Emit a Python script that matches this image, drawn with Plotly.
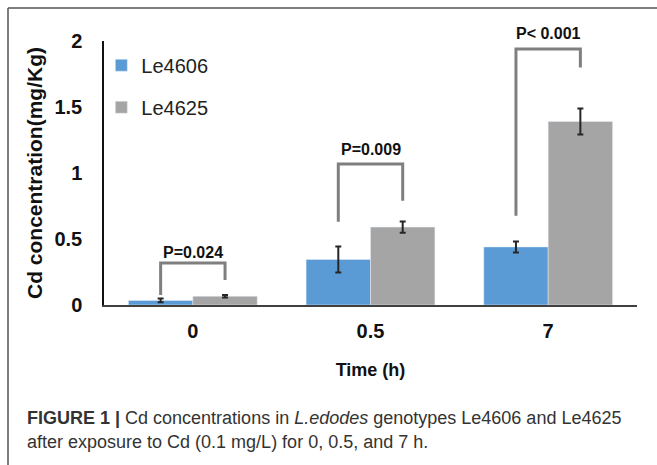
import plotly.graph_objects as go

# ---- data ----
categories = ["0", "0.5", "7"]
le4606 = [0.035, 0.345, 0.44]
le4606_err = [0.015, 0.098, 0.042]
le4625 = [0.066, 0.59, 1.39]
le4625_err = [0.01, 0.043, 0.098]
p_labels = ["P=0.024", "P=0.009", "P< 0.001"]
bracket_top = [0.318, 1.068, 1.94]
bracket_left_end = [0.076, 0.631, 0.676]
bracket_right_end = [0.19, 0.79, 1.80]
p_label_y = [0.394, 1.18, 2.06]
y_ticks = [0, 0.5, 1, 1.5, 2]
y_tick_text = ["0", "0.5", "1", "1.5", "2"]

FONT = "Liberation Sans, Arial, sans-serif"
BLUE = "#5b9bd5"
GRAY = "#a5a5a5"
bargap = 0.275
half = (1 - bargap) / 4  # offset of each bar center from group center
Y_RANGE = [0, 2]

xpos = list(range(len(categories)))

fig = go.Figure()
fig.add_trace(go.Bar(
    x=xpos, y=le4606, name="Le4606", marker_color=BLUE, legendgroup="a",
    error_y=dict(type="data", array=le4606_err, color="#262626", thickness=2, width=3),
))
fig.add_trace(go.Bar(
    x=xpos, y=le4625, name="Le4625", marker_color=GRAY, legendgroup="b",
    error_y=dict(type="data", array=le4625_err, color="#262626", thickness=2, width=3),
))

shapes = []
annotations = []
for i in xpos:
    xl, xr = i - half, i + half
    shapes.append(dict(
        type="path", xref="x", yref="y",
        path=f"M{xl},{bracket_left_end[i]} L{xl},{bracket_top[i]} L{xr},{bracket_top[i]} L{xr},{bracket_right_end[i]}",
        line=dict(color="#7f7f7f", width=3),
    ))
    # label y expressed as fraction of the y range (so labels above the range still show)
    annotations.append(dict(
        x=i, y=(p_label_y[i] - Y_RANGE[0]) / (Y_RANGE[1] - Y_RANGE[0]), xref="x", yref="paper",
        text=f"<b>{p_labels[i]}</b>",
        showarrow=False, xanchor="center", yanchor="middle",
        font=dict(family=FONT, size=16, color="#111111"),
    ))

# figure frame (left and top edges)
bx = (8 - 104) / 533
by = (305 - 8) / 264
shapes.append(dict(type="line", xref="paper", yref="paper", x0=bx, x1=bx, y0=-1.0, y1=by,
                   line=dict(color="#555555", width=1.5)))
shapes.append(dict(type="line", xref="paper", yref="paper", x0=bx, x1=1.2, y0=by, y1=by,
                   line=dict(color="#555555", width=1.5)))

cap_x = (25 - 104) / 533
annotations.append(dict(
    x=cap_x, y=(305 - 418) / 264, xref="paper", yref="paper", xanchor="left", yanchor="middle",
    text="<b>FIGURE 1 |</b> Cd concentrations in <i>L.edodes</i> genotypes Le4606 and Le4625",
    showarrow=False, font=dict(family=FONT, size=18, color="#333333"),
))
annotations.append(dict(
    x=cap_x, y=(305 - 441.5) / 264, xref="paper", yref="paper", xanchor="left", yanchor="middle",
    text="after exposure to Cd (0.1 mg/L) for 0, 0.5, and 7 h.",
    showarrow=False, font=dict(family=FONT, size=18, color="#333333"),
))

fig.update_layout(
    width=657, height=465,
    margin=dict(l=104, r=20, t=41, b=160),
    paper_bgcolor="white", plot_bgcolor="white",
    barmode="group", bargap=bargap, bargroupgap=0,
    shapes=shapes, annotations=annotations,
    legend=dict(x=-0.005, y=0.982, xanchor="left", yanchor="top",
                font=dict(family=FONT, size=20, color="#222222"),
                bgcolor="rgba(0,0,0,0)", traceorder="grouped", tracegroupgap=13),
    font=dict(family=FONT),
)
fig.update_xaxes(
    range=[-0.5, 2.5], tickvals=xpos, ticktext=categories,
    showline=True, linecolor="#404040", linewidth=2, showgrid=False, zeroline=False,
    ticks="outside", ticklen=7, tickcolor="rgba(0,0,0,0)",
    tickfont=dict(family=FONT, size=20, color="#111111", weight="bold"),
    title=dict(text="Time (h)", standoff=22,
               font=dict(family=FONT, size=18, color="#111111", weight="bold")),
)
fig.update_yaxes(
    range=Y_RANGE, tickvals=y_ticks, ticktext=y_tick_text,
    showline=True, linecolor="#111111", linewidth=1.5, showgrid=False, zeroline=False,
    ticks="outside", ticklen=16, tickcolor="rgba(0,0,0,0)",
    tickfont=dict(family=FONT, size=20, color="#111111", weight="bold"),
    title=dict(text="Cd concentration(mg/Kg)", standoff=6,
               font=dict(family=FONT, size=21, color="#111111", weight="bold")),
)

fig.write_html("out.html")
